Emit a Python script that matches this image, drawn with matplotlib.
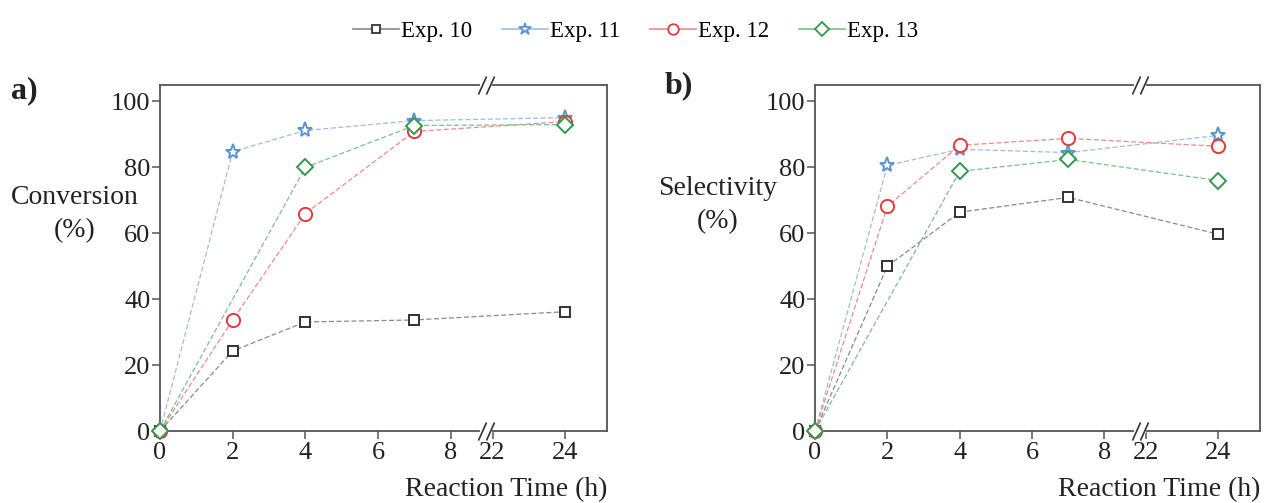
import numpy as np
import matplotlib.pyplot as plt
from matplotlib.lines import Line2D
from matplotlib.transforms import blended_transform_factory

plt.rcParams['font.family'] = 'Liberation Serif'

# data
time_h = [0, 2, 4, 7, 24]
time_13 = [0, 4, 7, 24]
conv = {
    'Exp. 10': [0, 24.3, 33.1, 33.7, 36.2],
    'Exp. 11': [0, 84.8, 91.2, 94.2, 95.1],
    'Exp. 12': [0, 33.7, 66.0, 90.9, 93.9],
    'Exp. 13': [0, 80.0, 92.7, 93.0],
}
sel = {
    'Exp. 10': [0, 50.0, 66.4, 70.9, 59.7],
    'Exp. 11': [0, 80.6, 85.5, 84.5, 89.7],
    'Exp. 12': [0, 68.2, 86.7, 88.8, 86.4],
    'Exp. 13': [0, 78.8, 82.4, 76.0],
}
x_ticks = [0, 2, 4, 6, 8, 22, 24]
y_ticks = [0, 20, 40, 60, 80, 100]

styles = {
    'Exp. 10': dict(marker='s', ms=7.5, line='#8a8a8a', edge='#333333'),
    'Exp. 11': dict(marker='*', ms=11, line='#9dbde6', edge='#5b93d3'),
    'Exp. 12': dict(marker='o', ms=9.5, line='#ee8a8c', edge='#e8383d'),
    'Exp. 13': dict(marker='D', ms=8.5, line='#7cbf8c', edge='#2f9a4a'),
}

# broken x axis: 8..22 squeezed into 1.15 units
GAP = 1.15 / 14


def fwd(x):
    x = np.asarray(x, dtype=float)
    return np.where(x <= 8, x, np.where(x <= 22, 8 + (x - 8) * GAP, x - 22 + 8 + 1.15))


def inv(x):
    x = np.asarray(x, dtype=float)
    return np.where(x <= 8, x, np.where(x <= 9.15, 8 + (x - 8) / GAP, x + 22 - 9.15))


fig = plt.figure(figsize=(12.64, 5.03), dpi=100)
ax_a = fig.add_axes([0.1266, 0.1431, 0.3536, 0.6879])
ax_b = fig.add_axes([0.6448, 0.1431, 0.3520, 0.6879])


def draw(ax, data, ylabel, ylab_pos):
    for name, ys in data.items():
        st = styles[name]
        xs = time_13 if name == 'Exp. 13' else time_h
        ax.plot(xs, ys, ls=(0, (4, 2)), lw=0.9, color=st['line'],
                marker=st['marker'], ms=st['ms'], mfc='white',
                mec=st['edge'], mew=1.4, zorder=3, clip_on=False)
    ax.set_xscale('function', functions=(fwd, inv))
    ax.set_xlim(0, 25.15)
    ax.set_ylim(0, 105)
    ax.set_xticks(x_ticks)
    ax.set_xticklabels([str(t) for t in x_ticks])
    ax.minorticks_off()
    ax.set_yticks(y_ticks)
    ax.tick_params(direction='out', length=6, width=1.1, color='#555555',
                   labelsize=19, colors='#222222')
    ax.tick_params(axis='y', pad=1)
    ax.tick_params(axis='x', pad=2)
    for sp in ax.spines.values():
        sp.set_color('#555555')
        sp.set_linewidth(1.3)
    # y label as two lines, kept as separate texts
    lx, ly = ylab_pos
    ax.text(lx, ly + 0.048, ylabel, transform=ax.transAxes, fontsize=20,
            ha='center', va='center', color='#222222')
    ax.text(lx, ly - 0.048, '(%)', transform=ax.transAxes, fontsize=20,
            ha='center', va='center', color='#222222')
    ax.set_xlabel('Reaction Time (h)', fontsize=20, ha='right', va='center',
                  color='#222222')
    ax.xaxis.set_label_coords(1.0, -0.17)

    # break marks on top and bottom spine
    tr = blended_transform_factory(ax.transData, ax.transAxes)
    for yb in (0, 1):
        ax.plot([18.6, 21.2], [yb, yb], color='white', lw=3, transform=tr,
                clip_on=False, zorder=5)
        for xb in (18.6, 21.2):
            ax.plot([xb], [yb], marker=[(-0.45, -1), (0.45, 1)], ms=13,
                    mec='#333333', mew=1.2, ls='none', transform=tr,
                    clip_on=False, zorder=6)


draw(ax_a, conv, 'Conversion', (-0.19, 0.627))
draw(ax_b, sel, 'Selectivity', (-0.218, 0.653))

fig.text(0.009, 0.82, 'a)', fontsize=23, fontweight='bold', color='#222222',
         va='center')
fig.text(0.526, 0.83, 'b)', fontsize=23, fontweight='bold', color='#222222',
         va='center')

handles = []
for name, st in styles.items():
    handles.append(Line2D([], [], color=st['line'], lw=1.2, marker=st['marker'],
                          ms=st['ms'] * 0.8, mfc='white', mec=st['edge'],
                          mew=1.3, label=name))
fig.legend(handles=handles, loc='upper center', bbox_to_anchor=(0.503, 1.0),
           ncol=4, frameon=False, fontsize=16.5, handlelength=2.0,
           handletextpad=0.1, columnspacing=1.3)

fig.savefig('out.png', dpi=100)
